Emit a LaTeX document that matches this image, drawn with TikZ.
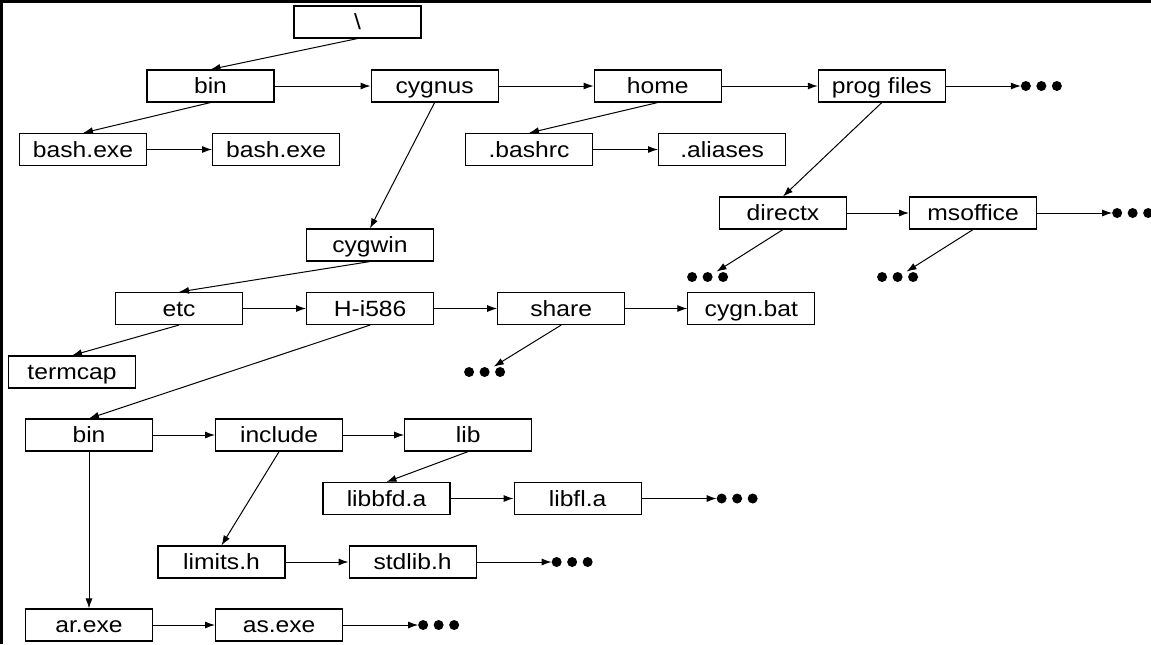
\documentclass[tikz,border=0pt]{standalone}
\usepackage{fontspec}
\setmainfont{Liberation Sans}[FakeStretch=1.12]
\usetikzlibrary{arrows.meta,positioning}
\tikzstyle{dir} = [rectangle, draw, line width=0.55pt, inner sep=0pt,
    minimum width=63.5pt, minimum height=16pt, text height=7.9pt, text depth=0pt,
    font=\fontsize{11}{13}\selectfont]
\tikzstyle{more} = [inner sep=0pt, minimum width=20.5pt, minimum height=5pt]
\tikzstyle{link} = [draw, line width=0.5pt, -{Latex[length=5pt,width=3.5pt]}]

\begin{document}
\begin{tikzpicture}[x=0.5pt, y=-0.5pt]
    \useasboundingbox (0,0) rectangle (1151,644);
    \draw[line width=1.5pt] (1.5,644) -- (1.5,1.5) -- (1151,1.5);

    \node[dir] (root) at (357.5,22) {\textbackslash};

    \node[dir] (bin) at (210.5,86) {bin};
    \node[dir,right=48pt of bin] (cygnus) {cygnus};
    \node[dir,right=47.5pt of cygnus] (home) {home};
    \node[dir,right=48pt of home] (progFiles) {prog files};
    \node[more,right=37.5pt of progFiles] (progMore) {};

    \node[dir] (bashExe) at (83,149.5) {bash.exe};
    \node[dir,right=32.5pt of bashExe] (bashExeB) {bash.exe};
    \node[dir] (bashrc) at (529,149.5) {.bashrc};
    \node[dir,right=32.5pt of bashrc] (aliases) {.aliases};

    \node[dir] (directx) at (783,213) {directx};
    \node[dir,right=31pt of directx] (msoffice) {msoffice};
    \node[more,right=37.5pt of msoffice] (msofficeMore) {};
    \node[more] (directxSub) at (708,277) {};
    \node[more] (msofficeSub) at (898,277) {};

    \node[dir] (cygwin) at (370,245) {cygwin};

    \node[dir] (etc) at (179,308.5) {etc};
    \node[dir,right=31.5pt of etc] (hiFive) {H-i586};
    \node[dir,right=31.5pt of hiFive] (share) {share};
    \node[dir,right=31pt of share] (cygnBat) {cygn.bat};
    \node[dir] (termcap) at (72,372) {termcap};
    \node[more] (shareSub) at (485,372) {};

    \node[dir] (binB) at (89,435) {bin};
    \node[dir,right=31pt of binB] (include) {include};
    \node[dir,right=30.5pt of include] (lib) {lib};

    \node[dir] (libbfd) at (386.5,498.5) {libbfd.a};
    \node[dir,right=31.5pt of libbfd] (libfl) {libfl.a};
    \node[more,right=37.5pt of libfl] (libflMore) {};

    \node[dir] (limits) at (221.5,562) {limits.h};
    \node[dir,right=31.5pt of limits] (stdlib) {stdlib.h};
    \node[more,right=37.5pt of stdlib] (stdlibMore) {};

    \node[dir] (arExe) at (89,625) {ar.exe};
    \node[dir,right=31pt of arExe] (asExe) {as.exe};
    \node[more,right=37.5pt of asExe] (asMore) {};

    % the three dots of each open list
    \foreach \m in {progMore,msofficeMore,directxSub,msofficeSub,shareSub,libflMore,stdlibMore,asMore}
        \foreach \k in {0,1,2}
            \fill ([xshift=2.5pt+\k*7.75pt]\m.west) circle (2.5pt);

    \path[link] (root.south) -- (bin.north);
    \path[link] (bin) -- (cygnus);
    \path[link] (cygnus) -- (home);
    \path[link] (home) -- (progFiles);
    \path[link] (progFiles) -- (progMore);

    \path[link] (bin.south) -- (bashExe.north);
    \path[link] (bashExe) -- (bashExeB);
    \path[link] (home.south) -- (bashrc.north);
    \path[link] (bashrc) -- (aliases);

    \path[link] (progFiles.south) -- (directx.north);
    \path[link] (directx) -- (msoffice);
    \path[link] (msoffice) -- (msofficeMore);
    \path[link] (directx.south) -- (directxSub);
    \path[link] (msoffice.south) -- (msofficeSub);

    \path[link] (cygnus.south) -- (cygwin.north);
    \path[link] (cygwin.south) -- (etc.north);
    \path[link] (etc) -- (hiFive);
    \path[link] (hiFive) -- (share);
    \path[link] (share) -- (cygnBat);
    \path[link] (etc.south) -- (termcap.north);
    \path[link] (share.south) -- (shareSub);

    \path[link] (hiFive.south) -- (binB.north);
    \path[link] (binB) -- (include);
    \path[link] (include) -- (lib);
    \path[link] (lib.south) -- (libbfd.north);
    \path[link] (libbfd) -- (libfl);
    \path[link] (libfl) -- (libflMore);
    \path[link] (include.south) -- (limits.north);
    \path[link] (limits) -- (stdlib);
    \path[link] (stdlib) -- (stdlibMore);
    \path[link] (binB.south) -- (arExe.north);
    \path[link] (arExe) -- (asExe);
    \path[link] (asExe) -- (asMore);
\end{tikzpicture}
\end{document}
